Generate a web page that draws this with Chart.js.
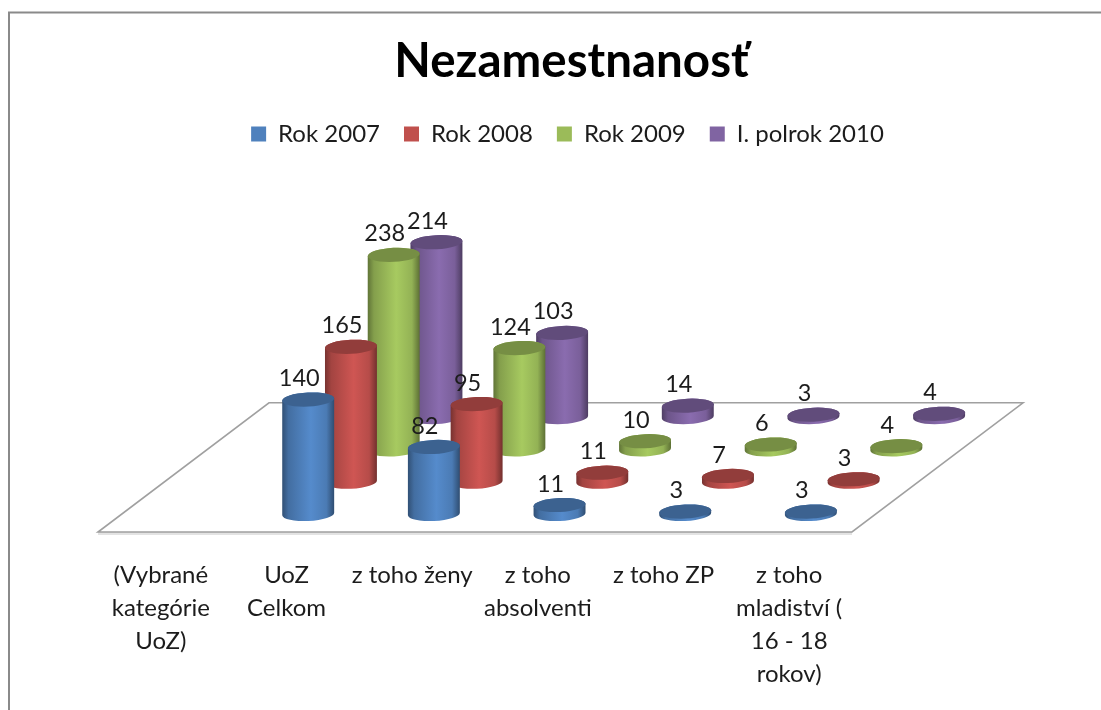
<!DOCTYPE html>
<html>
<head>
<meta charset="utf-8">
<style>html,body{margin:0;padding:0;background:#fff}canvas{display:block}</style>
<script src="https://cdn.jsdelivr.net/npm/chart.js@4/dist/chart.umd.js"></script>
</head>
<body>
<div style="width:1101px;height:710px"><canvas id="c" width="1101" height="710"></canvas></div>
<script>
const categories = [
  ['(Vybrané','kategórie','UoZ)'],
  ['UoZ','Celkom'],
  'z toho ženy',
  ['z toho','absolventi'],
  'z toho ZP',
  ['z toho','mladiství (','16 - 18','rokov)']
];
const seriesNames = ['Rok 2007','Rok 2008','Rok 2009','I. polrok 2010'];
const rok2007 = [null,140,82,11,3,3];
const rok2008 = [null,165,95,11,7,3];
const rok2009 = [null,238,124,10,6,4];
const polrok2010 = [null,214,103,14,3,4];
const colors = ['#4f81bd','#c0504d','#9bbb59','#8064a2'];

const ROW_DX = 42.75, ROW_DY = -32.3, START_DX = 21.7, START_DY = -18;
const RY = 7, TILT = -0.05;

function shade(hex,f){
  const n=parseInt(hex.slice(1),16);
  const c=[(n>>16)&255,(n>>8)&255,n&255].map(v=>Math.min(255,Math.round(v*f)));
  return `rgb(${c[0]},${c[1]},${c[2]})`;
}

class CylinderBar extends Chart.BarElement {
  static id = 'cylinderBar';
  draw(ctx){
    const {x,y,base,width} = this.getProps(['x','y','base','width']);
    const col = this.options.backgroundColor;
    const r = width/2;
    const g = ctx.createLinearGradient(x-r,0,x+r,0);
    g.addColorStop(0,shade(col,.62));
    g.addColorStop(.12,shade(col,.85));
    g.addColorStop(.55,shade(col,1.08));
    g.addColorStop(.85,shade(col,.95));
    g.addColorStop(1,shade(col,.6));
    ctx.save();
    ctx.beginPath();
    ctx.ellipse(x,base,r,RY,TILT,0,Math.PI);
    ctx.ellipse(x,y,r,RY,TILT,Math.PI,2*Math.PI);
    ctx.closePath();
    ctx.fillStyle=g;
    ctx.fill();
    ctx.beginPath();
    ctx.ellipse(x,y,r,RY,TILT,0,2*Math.PI);
    ctx.fillStyle=shade(col,.76);
    ctx.fill();
    ctx.restore();
  }
}
class CylinderController extends Chart.BarController {
  static id = 'cylinder';
  static defaults = Object.assign({},Chart.BarController.defaults,{dataElementType:'cylinderBar'});
}
Chart.register(CylinderBar,CylinderController);

const rowShift = i => ({dx:START_DX+ROW_DX*i, dy:START_DY+ROW_DY*i});

const floorPlugin = {
  id:'floor',
  beforeDraw(chart){
    const {ctx,width,height}=chart;
    ctx.save();
    ctx.strokeStyle='#8a8a8a';ctx.lineWidth=2;
    ctx.beginPath();ctx.moveTo(9,height);ctx.lineTo(9,12.5);ctx.lineTo(width,12.5);ctx.stroke();
    ctx.restore();
  },
  beforeDatasetsDraw(chart){
    const {ctx,scales:{x,y}}=chart;
    const b=y.getPixelForValue(0), l=x.left, r=x.right;
    const depthX=ROW_DX*4, depthY=ROW_DY*4;
    ctx.save();
    ctx.fillStyle='#e3e3e3';
    ctx.fillRect(l,b,r-l,3);
    ctx.strokeStyle='#a0a0a0';ctx.lineWidth=1.6;
    ctx.beginPath();
    ctx.moveTo(l,b);ctx.lineTo(r,b);ctx.lineTo(r+depthX,b+depthY);ctx.lineTo(l+depthX,b+depthY);ctx.closePath();
    ctx.fillStyle='#ffffff';ctx.fill();ctx.stroke();
    ctx.restore();
  },
  beforeDatasetDraw(chart,args){
    const s=rowShift(args.index);
    chart.ctx.save();
    chart.ctx.translate(s.dx,s.dy);
  },
  afterDatasetDraw(chart){ chart.ctx.restore(); },
  afterDatasetsDraw(chart){
    const ctx=chart.ctx;
    ctx.save();
    ctx.font='23.5px Lato';ctx.fillStyle='#1c1c1c';ctx.textAlign='center';ctx.textBaseline='middle';
    chart.data.datasets.forEach((ds,i)=>{
      const s=rowShift(i);
      chart.getDatasetMeta(i).data.forEach((el,j)=>{
        if(ds.data[j]==null) return;
        ctx.fillText(String(ds.data[j]),el.x+s.dx-9,el.y+s.dy-21);
      });
    });
    ctx.restore();
  },
  afterLayout(chart){
    if(chart.titleBlock){chart.titleBlock.left+=4;chart.titleBlock.right+=4;}
  }
};

const allValues=[rok2007,rok2008,rok2009,polrok2010];
new Chart(document.getElementById('c'),{
  type:'cylinder',
  data:{
    labels:categories,
    datasets:allValues.map((v,i)=>({
      label:seriesNames[i],data:v,backgroundColor:colors[i],borderWidth:0,
      grouped:false,categoryPercentage:1,barPercentage:52/125.67,clip:false,
      yAxisID:'y',xAxisID:'x'
    }))
  },
  options:{
    responsive:false,animation:false,
    layout:{padding:{left:34,right:0,top:0,bottom:0}},
    plugins:{
      tooltip:{enabled:false},
      title:{display:true,text:'Nezamestnanosť',color:'#000',
        font:{family:'Lato',size:47.5,weight:'bold',lineHeight:1.2},
        padding:{top:33.5,bottom:7.5}},
      legend:{display:true,position:'top',
        labels:{boxWidth:15,boxHeight:15,padding:24,color:'#1c1c1c',
          font:{family:'Lato',size:24}}}
    },
    scales:{
      x:{type:'category',position:'bottom',offset:true,
        grid:{display:false,drawTicks:false},border:{display:false},
        afterFit(s){s.height=178;},
        ticks:{autoSkip:false,maxRotation:0,minRotation:0,padding:27,color:'#1c1c1c',
          font:{family:'Lato',size:24,lineHeight:1.375}}},
      y:{type:'linear',position:'left',min:0,max:460,
        grid:{display:false},border:{display:false},ticks:{display:false},
        afterFit(s){s.width=64;}},
      pad:{type:'linear',position:'right',min:0,max:1,
        grid:{display:false},border:{display:false},ticks:{display:false},
        afterFit(s){s.width=249;}}
    }
  },
  plugins:[floorPlugin]
});
</script>
</body>
</html>
